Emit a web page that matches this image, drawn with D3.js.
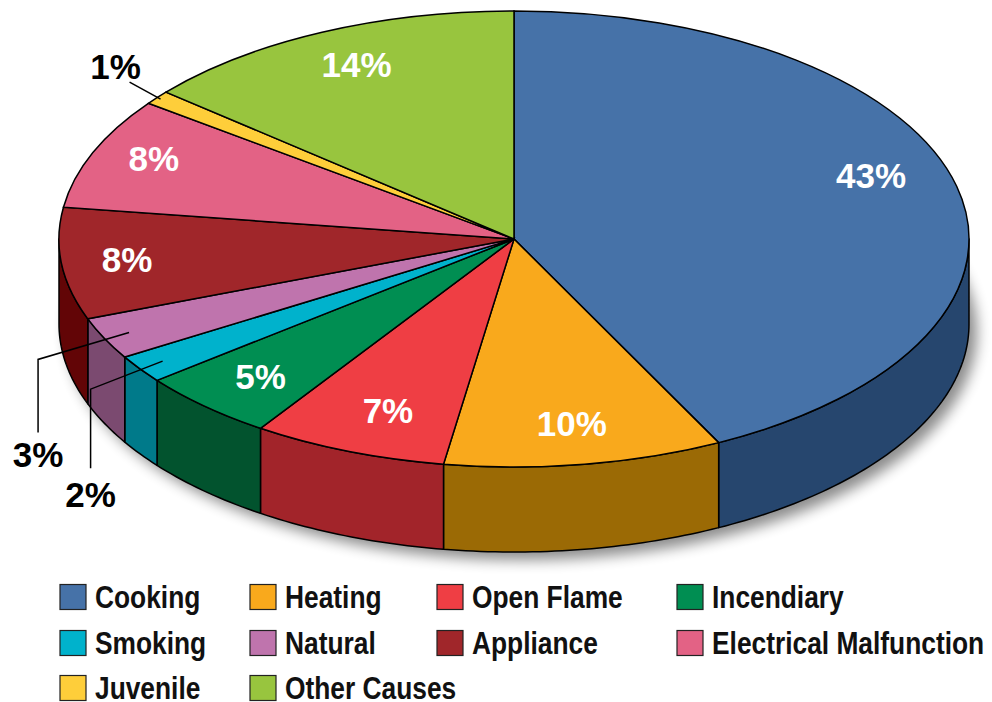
<!DOCTYPE html>
<html>
<head>
<meta charset="utf-8">
<script src="https://cdn.jsdelivr.net/npm/d3@7/dist/d3.min.js"></script>
<style>
  html, body { margin: 0; padding: 0; background: #fff; }
  svg { display: block; }
  .pct { font-family: "Liberation Sans", Arial, sans-serif; font-weight: bold; font-size: 35px; }
  .legend text { font-family: "Liberation Sans", Arial, sans-serif; font-weight: bold; font-size: 31px; fill: #111; }
</style>
</head>
<body>
<svg id="chart"></svg>
<script>
// fire cause shares (%), as printed
const causes = ["Cooking", "Heating", "Open Flame", "Incendiary", "Smoking", "Natural",
                "Appliance", "Electrical Malfunction", "Juvenile", "Other Causes"];
const shares = [43, 10, 7, 5, 2, 3, 8, 8, 1, 14];
const topColors = ["#4672a8", "#f9a91c", "#ef3e44", "#008e52", "#00b2cc", "#bf74ad",
                   "#a0262a", "#e36285", "#fece3a", "#98c53e"];
const sideColors = ["#26466e", "#9b6a05", "#a2242a", "#02532e", "#007a8a", "#7b4a70",
                    "#620506", "#9a3a55", "#b08c1a", "#62852a"];
// slices whose labels sit outside with a leader line
const outsideLabels = {
  "Juvenile": { pts: [[0.99, 0], [-31, -17]], text: [-45, -33] },
  "Natural": { pts: [[0.94, 0], [-91, 27], [-91, 100]], text: [-91, 122] },
  "Smoking": { pts: [[0.94, 0], [-72, 28], [-72, 107]], text: [-72, 133] }
};
// small hand nudges for inside labels
const labelNudge = {
  "Cooking": [-6, -20], "Open Flame": [10, -3], "Appliance": [-16, 0],
  "Electrical Malfunction": [-15, -10], "Other Causes": [0, -5]
};

const width = 992, height = 702;
const cx = 514, cy = 239, rx = 455, ry = 228, depth = 85;
const narrow = 0.85; // condensed face emulation for the legend

const svg = d3.select("#chart").attr("width", width).attr("height", height);

const defs = svg.append("defs");
defs.append("filter").attr("id", "blur")
  .attr("x", "-10%").attr("y", "-10%").attr("width", "120%").attr("height", "130%")
  .append("feGaussianBlur").attr("stdDeviation", 7);

const data = causes.map((c, i) => ({ cause: c, value: shares[i], i }));
const arcs = d3.pie().sort(null).value(d => d.value)(data);

const px = a => cx + rx * Math.sin(a);
const py = (a, off = 0) => cy - ry * Math.cos(a) + off;

// drop shadow under the pie
svg.append("ellipse")
  .attr("cx", cx + 8).attr("cy", cy + depth + 8)
  .attr("rx", rx).attr("ry", ry)
  .attr("fill", "#000").attr("opacity", 0.45)
  .attr("filter", "url(#blur)");

// side walls (front half only)
function sidePath(a0, a1) {
  const s = Math.max(a0, Math.PI / 2), e = Math.min(a1, 3 * Math.PI / 2);
  if (s >= e) return null;
  const n = Math.max(4, Math.ceil((e - s) * 60));
  const angs = d3.range(n + 1).map(k => s + (e - s) * k / n);
  const p = d3.path();
  angs.forEach((a, k) => k ? p.lineTo(px(a), py(a)) : p.moveTo(px(a), py(a)));
  angs.slice().reverse().forEach(a => p.lineTo(px(a), py(a, depth)));
  p.closePath();
  return p.toString();
}

svg.append("g").selectAll("path")
  .data(arcs.filter(d => sidePath(d.startAngle, d.endAngle)))
  .join("path")
  .attr("d", d => sidePath(d.startAngle, d.endAngle))
  .attr("fill", d => sideColors[d.data.i])
  .attr("stroke", "#000").attr("stroke-width", 1.5).attr("stroke-linejoin", "round");

// top face
const arc = d3.arc().innerRadius(0).outerRadius(rx);
svg.append("g")
  .attr("transform", `translate(${cx},${cy}) scale(1,${ry / rx})`)
  .selectAll("path")
  .data(arcs)
  .join("path")
  .attr("d", arc)
  .attr("fill", d => topColors[d.data.i])
  .attr("stroke", "#000").attr("stroke-width", 1.5)
  .attr("vector-effect", "non-scaling-stroke");

// labels
const mid = d => (d.startAngle + d.endAngle) / 2;
const nudge = d => labelNudge[d.data.cause] || [0, 0];
const labels = svg.append("g").attr("class", "pct");

labels.selectAll("text.in")
  .data(arcs.filter(d => !outsideLabels[d.data.cause]))
  .join("text")
  .attr("class", "in")
  .attr("x", d => cx + rx * 0.82 * Math.sin(mid(d)) + nudge(d)[0])
  .attr("y", d => cy - ry * 0.82 * Math.cos(mid(d)) + nudge(d)[1])
  .attr("dy", "0.36em")
  .attr("text-anchor", "middle")
  .attr("fill", "#fff")
  .text(d => d.data.value + "%");

arcs.filter(d => outsideLabels[d.data.cause]).forEach(d => {
  const o = outsideLabels[d.data.cause];
  const a = mid(d);
  const x0 = cx + rx * o.pts[0][0] * Math.sin(a), y0 = cy - ry * o.pts[0][0] * Math.cos(a);
  const pts = [[x0, y0]].concat(o.pts.slice(1).map(p => [x0 + p[0], y0 + p[1]]));
  labels.append("path")
    .attr("d", d3.line()(pts))
    .attr("fill", "none").attr("stroke", "#000").attr("stroke-width", 1.5);
  labels.append("text")
    .attr("x", x0 + o.text[0]).attr("y", y0 + o.text[1])
    .attr("dy", "0.36em")
    .attr("text-anchor", "middle")
    .attr("fill", "#000")
    .text(d.data.value + "%");
});

// legend
const colX = [60, 250, 437, 677];
const rowY = [597, 643, 688];
const legend = svg.append("g").attr("class", "legend")
  .selectAll("g")
  .data(causes)
  .join("g")
  .attr("transform", (d, i) => `translate(${colX[i % 4]},${rowY[Math.floor(i / 4)]})`);

legend.append("rect")
  .attr("x", 0).attr("y", -12.5).attr("width", 26).attr("height", 25)
  .attr("fill", (d, i) => topColors[i])
  .attr("stroke", "#222").attr("stroke-width", 1.2);

legend.append("text")
  .attr("transform", `translate(35,0) scale(${narrow},1)`)
  .attr("dy", "0.36em")
  .text(d => d);
</script>
</body>
</html>
